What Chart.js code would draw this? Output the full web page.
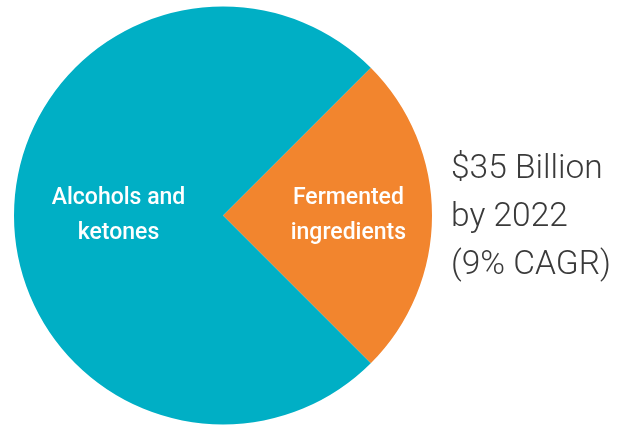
<!DOCTYPE html>
<html>
<head>
<meta charset="utf-8">
<script src="https://cdn.jsdelivr.net/npm/chart.js@4"></script>
<style>
  html, body { margin: 0; padding: 0; background: #fff; }
  #wrap { position: relative; width: 624px; height: 428px; }
  #note {
    position: absolute; left: 451px; top: 143px;
    font-family: Roboto, sans-serif; font-weight: 300;
    font-size: 33.5px; line-height: 48px; color: #3a3a3a;
    white-space: nowrap;
  }
</style>
</head>
<body>
<div id="wrap">
  <canvas id="myChart" width="624" height="428"></canvas>
  <div id="note">$35 Billion<br>by 2022<br>(9% CAGR)</div>
</div>
<script>
  const categories = ['Fermented ingredients', 'Alcohols and ketones'];
  const shares = [25, 75];
  const sliceLabels = [['Fermented', 'ingredients'], ['Alcohols and', 'ketones']];
  const colors = ['#f2852e', '#00afc5'];

  // writes the two-line labels inside each slice
  const sliceText = {
    id: 'sliceText',
    afterDatasetsDraw(chart) {
      const ctx = chart.ctx;
      const arcs = chart.getDatasetMeta(0).data;
      const spots = [0.6, 0.5];
      ctx.save();
      ctx.fillStyle = '#ffffff';
      ctx.font = '500 23px Roboto, sans-serif';
      ctx.textAlign = 'center';
      ctx.textBaseline = 'middle';
      arcs.forEach((arc, i) => {
        const mid = (arc.startAngle + arc.endAngle) / 2;
        const r = arc.outerRadius * spots[i];
        const x = arc.x + Math.cos(mid) * r;
        const y = arc.y + Math.sin(mid) * r;
        const lines = sliceLabels[i];
        lines.forEach((t, j) => {
          ctx.fillText(t, x, y + (j - (lines.length - 1) / 2) * 35);
        });
      });
      ctx.restore();
    }
  };

  const ctx = document.getElementById('myChart').getContext('2d');
  new Chart(ctx, {
    type: 'pie',
    data: {
      labels: categories,
      datasets: [{
        data: shares,
        backgroundColor: colors,
        borderWidth: 0
      }]
    },
    options: {
      responsive: false,
      animation: false,
      rotation: 45,
      layout: { padding: { left: 14, right: 192, top: 6, bottom: 3 } },
      plugins: {
        legend: { display: false },
        tooltip: { enabled: false }
      }
    },
    plugins: [sliceText]
  });
</script>
</body>
</html>
